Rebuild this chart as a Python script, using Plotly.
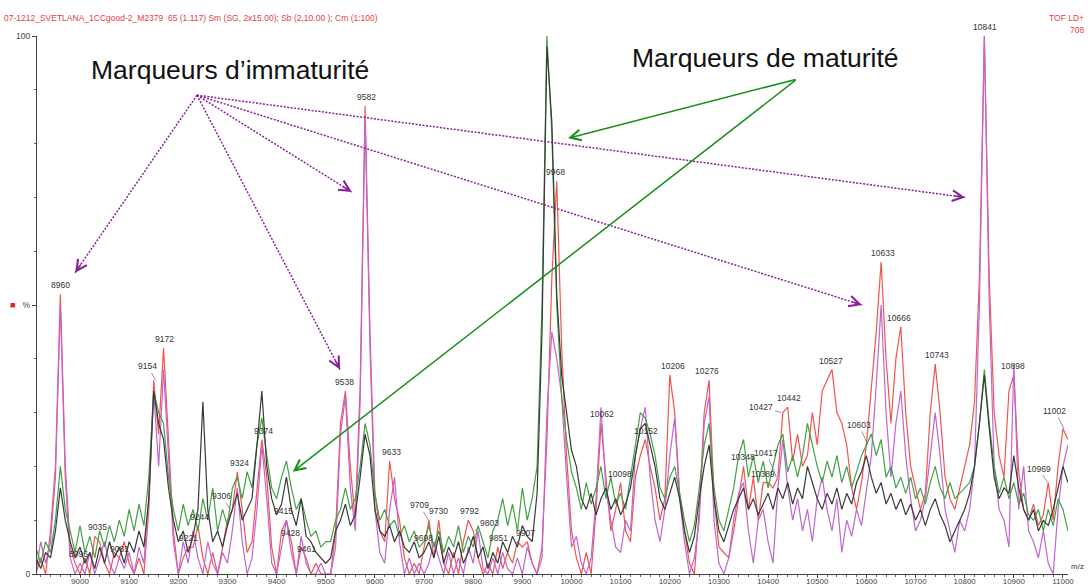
import plotly.graph_objects as go

# m/z sampling grid (Da)
mz = list(range(8910, 11011, 10))

# relative intensities (%) for the four overlaid spectra
red = [
    0, 3, 0, 8, 20, 52, 20, 5, 2, 0,
    3, 0, 7, 6, 2, 0, 4, 3, 6, 2,
    0, 3, 0, 12, 36, 26, 42, 24, 8, 0,
    3, 5, 5, 9, 3, 0, 4, 0, 5, 10,
    12, 19, 12, 4, 6, 15, 25, 18, 5, 0,
    8, 10, 6, 0, 5, 3, 0, 2, 0, 0,
    0, 8, 28, 34, 20, 10, 35, 87, 45, 15,
    8, 6, 21, 14, 10, 3, 0, 2, 0, 5,
    10, 3, 10, 2, 0, 4, 0, 6, 10, 8,
    3, 0, 2, 0, 5, 1, 4, 2, 6, 5,
    6, 2, 0, 5, 25, 55, 73, 42, 22, 8,
    3, 0, 4, 0, 12, 28, 18, 8, 12, 17,
    8, 6, 18, 22, 25, 20, 16, 10, 14, 37,
    30, 15, 8, 2, 0, 12, 30, 36, 14, 5,
    4, 3, 8, 14, 20, 12, 18, 10, 17, 17,
    16, 18, 30, 31, 21, 26, 20, 22, 30, 24,
    34, 36, 38, 30, 28, 24, 16, 12, 17, 24,
    35, 45, 58, 40, 28, 40, 46, 30, 20, 16,
    12, 15, 30, 39, 30, 18, 14, 12, 16, 20,
    24, 32, 55, 100, 55, 30, 22, 18, 34, 37,
    19, 12, 10, 13, 9, 11, 17, 10, 20, 27,
    25,
]

violet = [
    0, 6, 2, 6, 18, 50, 18, 3, 0, 2,
    0, 4, 0, 3, 6, 2, 0, 3, 1, 4,
    0, 5, 2, 14, 34, 20, 38, 22, 6, 0,
    6, 2, 8, 3, 0, 6, 2, 0, 4, 2,
    8, 16, 6, 0, 3, 12, 24, 14, 2, 0,
    5, 10, 4, 0, 7, 2, 0, 0, 2, 0,
    0, 5, 26, 33, 16, 8, 32, 85, 42, 12,
    4, 2, 12, 18, 6, 0, 3, 0, 2, 0,
    2, 6, 3, 0, 4, 0, 3, 0, 5, 2,
    8, 1, 0, 3, 0, 4, 1, 0, 3, 0,
    5, 2, 0, 3, 30, 45, 40, 33, 18, 5,
    7, 2, 0, 3, 14, 31, 16, 10, 5, 4,
    10, 8, 22, 27, 31, 18, 10, 6, 12, 22,
    29, 14, 6, 0, 3, 10, 28, 33, 10, 2,
    0, 3, 10, 15, 17, 8, 2, 10, 12, 6,
    2, 16, 25, 16, 10, 14, 8, 12, 6, 14,
    18, 12, 8, 14, 4, 10, 7, 12, 9, 16,
    22, 35, 50, 30, 18, 28, 34, 22, 14, 8,
    10, 14, 22, 30, 22, 12, 8, 4, 10, 8,
    12, 20, 50, 100, 50, 20, 12, 10, 5, 39,
    12, 20, 8, 6, 3, 8, 2, 0, 12, 20,
    24,
]

green = [
    5, 2, 6, 4, 10, 20, 12, 8, 4, 9,
    4, 7, 3, 8, 5, 9, 6, 10, 7, 12,
    8, 13, 9, 18, 34, 30, 28, 18, 12, 8,
    13, 9, 12, 8, 14, 10, 16, 8, 12, 9,
    16, 18, 14, 19, 16, 24, 29, 22, 16, 14,
    18, 21, 16, 12, 14, 10, 7, 8, 5, 6,
    6, 10, 12, 16, 12, 14, 20, 28, 24, 15,
    10, 12, 9, 10, 7, 9, 6, 8, 5, 6,
    9, 5, 8, 4, 7, 5, 9, 4, 7, 5,
    9, 6, 3, 8, 10, 14, 9, 13, 8, 16,
    10, 14, 20, 50, 100, 82, 50, 33, 25, 19,
    16, 12, 17, 13, 16, 20, 14, 18, 13, 15,
    12, 18, 24, 30, 29, 26, 22, 16, 14, 18,
    20, 15, 10, 6, 9, 16, 24, 28, 16, 10,
    8, 12, 16, 22, 25, 18, 22, 17, 21, 16,
    20, 24, 26, 19, 22, 18, 22, 28, 24, 20,
    17, 21, 18, 22, 17, 20, 16, 19, 22, 24,
    26, 22, 25, 18, 20, 16, 18, 15, 18, 14,
    16, 13, 17, 20, 16, 14, 17, 14, 15, 16,
    17, 20, 28, 38, 28, 20, 15, 18, 14, 17,
    13, 15, 11, 10, 12, 8, 12, 9, 14, 12,
    8,
]

black = [
    3, 1, 4, 3, 8, 16, 10, 6, 3, 5,
    2, 4, 1, 5, 2, 6, 3, 5, 2, 6,
    4, 8, 5, 14, 34, 28, 25, 16, 10, 6,
    8, 4, 7, 12, 32, 12, 6, 8, 5, 9,
    12, 15, 10, 12, 14, 24, 34, 20, 14, 11,
    13, 18, 12, 9, 14, 7, 6, 4, 3, 2,
    3, 8, 10, 13, 9, 11, 18, 26, 22, 12,
    8, 7, 9, 6, 8, 5, 4, 6, 3, 4,
    6, 3, 7, 2, 5, 3, 6, 2, 4, 7,
    3, 5, 1, 4, 2, 6, 4, 7, 5, 9,
    7, 6, 15, 45, 98, 84, 52, 37, 30, 23,
    20, 14, 12, 15, 11, 14, 16, 12, 14, 11,
    13, 16, 22, 27, 28, 24, 20, 14, 12, 15,
    18, 14, 8, 4, 7, 14, 20, 24, 14, 8,
    6, 9, 12, 14, 16, 12, 14, 11, 13, 15,
    12, 16, 14, 17, 13, 16, 14, 20, 17, 14,
    12, 15, 13, 16, 12, 15, 13, 17, 19, 22,
    18, 15, 17, 13, 15, 12, 14, 11, 13, 10,
    12, 9, 12, 14, 11, 9, 6, 8, 10, 12,
    15, 20, 28, 37, 27, 18, 14, 16, 15, 22,
    16, 12, 10, 12, 8, 10, 9, 12, 16, 20,
    17,
]

# annotated peak m/z values (on the red spectrum)
peak_labels = [8960, 8996, 9035, 9081, 9154, 9172, 9221, 9244, 9306, 9324,
               9374, 9415, 9428, 9461, 9538, 9582, 9633, 9698, 9709, 9730,
               9792, 9803, 9851, 9907, 9968, 10062, 10098, 10152, 10206,
               10276, 10348, 10389, 10417, 10427, 10442, 10527, 10603,
               10633, 10666, 10743, 10841, 10898, 10969, 11002]

# labels drawn with a short leader line: pixel offset of the text
leaders = {9154: (-8, -14), 9306: (-9, -13), 9709: (-9, -15), 9803: (15, -8),
           10417: (-10, -24), 10427: (-20, -6), 10603: (-9, -20),
           10969: (-9, -14), 11002: (-9, -18)}

header = "07-1212_SVETLANA_1CCgood-2_M2379  65 (1.117) Sm (SG, 2x15.00); Sb (2,10.00 ); Cm (1:100)"

assert len(mz) == len(red) == len(violet) == len(green) == len(black)

# ---- geometry ----
W, H = 1090, 586
ML, MR, MT, MB = 37, 22, 36, 12
PW, PH = W - ML - MR, H - MT - MB
XR = [8912.5, 11010.2]
YR = [0, 100]
FONT = "Arial, Liberation Sans, sans-serif"


def to_px(x, y):
    return (ML + (x - XR[0]) / (XR[1] - XR[0]) * PW,
            MT + (1 - (y - YR[0]) / (YR[1] - YR[0])) * PH)


def paper(px, py):
    return (px - ML) / PW, (H - MB - py) / PH


fig = go.Figure()
for vals, col in [(red, "#f2544e"), (violet, "#c065d2"),
                  (green, "#43a043"), (black, "#383838")]:
    fig.add_trace(go.Scatter(x=mz, y=vals, mode="lines",
                             line=dict(color=col, width=1.2),
                             hoverinfo="skip", showlegend=False))

annotations = []

# peak m/z labels, placed above the red apex
for lab in peak_labels:
    apex = max(v for m, v in zip(mz, red) if abs(m - lab) <= 6)
    if lab in leaders:
        ax, ay = leaders[lab]
        annotations.append(dict(x=lab, y=apex, text=str(lab), showarrow=True,
                                arrowhead=0, arrowwidth=0.7, arrowcolor="#666",
                                ax=ax, ay=ay, standoff=0,
                                font=dict(size=8.5, color="#333", family=FONT)))
    else:
        annotations.append(dict(x=lab, y=apex, text=str(lab), showarrow=False,
                                xanchor="center", yanchor="bottom", yshift=2,
                                font=dict(size=8.5, color="#333", family=FONT)))

shapes = []

# immaturity markers: dotted violet arrows from a common origin
imm_origin = (9238, 89)
imm_targets = [(8990, 56), (9553, 71), (9529, 38), (10801, 70), (10591, 50)]
VIOLET = "#8a1f9c"
for tx, ty in imm_targets:
    shapes.append(dict(type="line", xref="x", yref="y",
                       x0=imm_origin[0], y0=imm_origin[1], x1=tx, y1=ty,
                       line=dict(color=VIOLET, width=1.5, dash="2px,1.5px")))
    hx, hy = to_px(tx, ty)
    ox, oy = to_px(*imm_origin)
    d = ((ox - hx) ** 2 + (oy - hy) ** 2) ** 0.5
    annotations.append(dict(x=tx, y=ty, text="", showarrow=True,
                            ax=(ox - hx) / d * 12, ay=(oy - hy) / d * 12,
                            arrowhead=5, arrowsize=1.4, arrowwidth=1.5,
                            arrowcolor=VIOLET, standoff=0))

# maturity markers: solid green arrows
mat_origin = (10459, 92)
mat_targets = [(9993, 81), (9433, 19)]
for tx, ty in mat_targets:
    annotations.append(dict(x=tx, y=ty, xref="x", yref="y", text="",
                            showarrow=True, axref="x", ayref="y",
                            ax=mat_origin[0], ay=mat_origin[1],
                            arrowhead=5, arrowsize=1.4, arrowwidth=1.5,
                            arrowcolor="#17901a", standoff=0))


def add_text(px, py, text, size, color, xanchor="center"):
    x0, y0 = paper(px, py)
    annotations.append(dict(xref="paper", yref="paper", x=x0, y=y0,
                            xanchor=xanchor, yanchor="middle",
                            text=text, showarrow=False,
                            font=dict(size=size, color=color, family=FONT)))


# callouts, header and axis extras
add_text(230, 70, "Marqueurs d’immaturité", 26.5, "#111")
add_text(765, 58, "Marqueurs de maturité", 26.5, "#111")
add_text(2, 18, header, 8.5, "#e8403c", xanchor="left")
add_text(1086, 18, "TOF LD+", 8.5, "#e8403c", xanchor="right")
add_text(1086, 30, "708", 8.5, "#e8403c", xanchor="right")
add_text(1077, 566, "m/z", 8, "#333")
add_text(12, 305, "■", 9, "#e02020")

fig.update_layout(
    width=W, height=H,
    margin=dict(l=ML, r=MR, t=MT, b=MB, pad=0),
    paper_bgcolor="white", plot_bgcolor="white",
    font=dict(family=FONT, size=8.5, color="#333"),
    xaxis=dict(range=XR, showgrid=False, zeroline=False, automargin=False,
               showline=True, linecolor="#444", linewidth=1.3,
               tick0=9000, dtick=100, tickformat="d",
               ticks="outside", ticklen=3, tickcolor="#444",
               ticklabelstandoff=-4,
               minor=dict(dtick=20, ticks="outside", ticklen=2, tickcolor="#666"),
               tickfont=dict(size=8, color="#444")),
    yaxis=dict(range=YR, showgrid=False, zeroline=False, automargin=False,
               showline=True, linecolor="#444", linewidth=1.3,
               tickvals=[0, 50, 100], ticktext=["0", "%", "100"],
               ticks="outside", ticklen=4, tickcolor="#444",
               minor=dict(dtick=10, ticks="outside", ticklen=2, tickcolor="#666"),
               tickfont=dict(size=8.5, color="#444")),
    annotations=annotations,
    shapes=shapes,
)

fig.write_html("out.html")
